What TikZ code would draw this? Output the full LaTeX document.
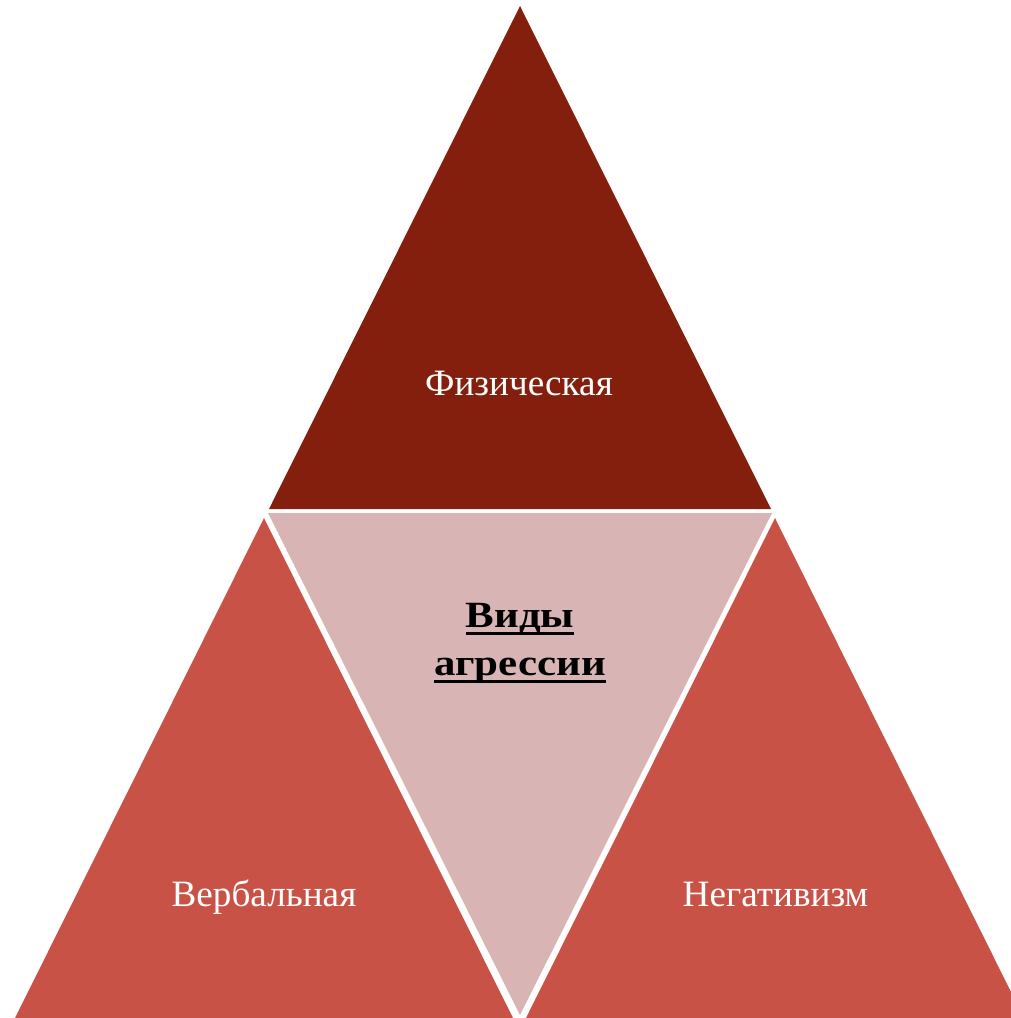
\documentclass[tikz,border=0pt]{standalone}
\usepackage{fontspec}
\usepackage{graphicx}
\setmainfont{Liberation Serif}
\newcommand\myul[1]{\setbox0\hbox{\scalebox{1.16}[1]{#1}}\rlap{\rule[-8pt]{\wd0}{3pt}}\box0}
\definecolor{topred}{RGB}{132,31,14}
\definecolor{sidered}{RGB}{201,82,71}
\definecolor{midpink}{RGB}{216,180,180}
\tikzset{
  lbl/.style={anchor=base,text=white,font=\fontsize{37.2}{43}\selectfont,inner sep=0pt},
  ctr/.style={anchor=base,text=black,font=\fontsize{37}{48}\selectfont\bfseries,inner sep=0pt}
}
\begin{document}
\begin{tikzpicture}[x=1pt,y=-1pt]
\useasboundingbox (0,0) rectangle (1011,1018);
\clip (0,0) rectangle (1011,1018);
\fill[topred] (520,6) -- (771,509) -- (269,509) -- cycle;
\fill[midpink] (268,513) -- (772,513) -- (520,1015) -- cycle;
\fill[sidered] (264,518) -- (513,1018) -- (15,1018) -- cycle;
\fill[sidered] (775,518) -- (1024,1018) -- (526,1018) -- cycle;
\node[lbl] (phys) at (519,395) {Физическая};
\node[lbl] (verb) at (264,906) {Вербальная};
\node[lbl] (neg) at (775.5,906) {Негативизм};
\node[ctr] (t1) at (520,627) {\myul{Виды}};
\node[ctr] (t2) at (520,675) {\myul{агрессии}};
\end{tikzpicture}
\end{document}
